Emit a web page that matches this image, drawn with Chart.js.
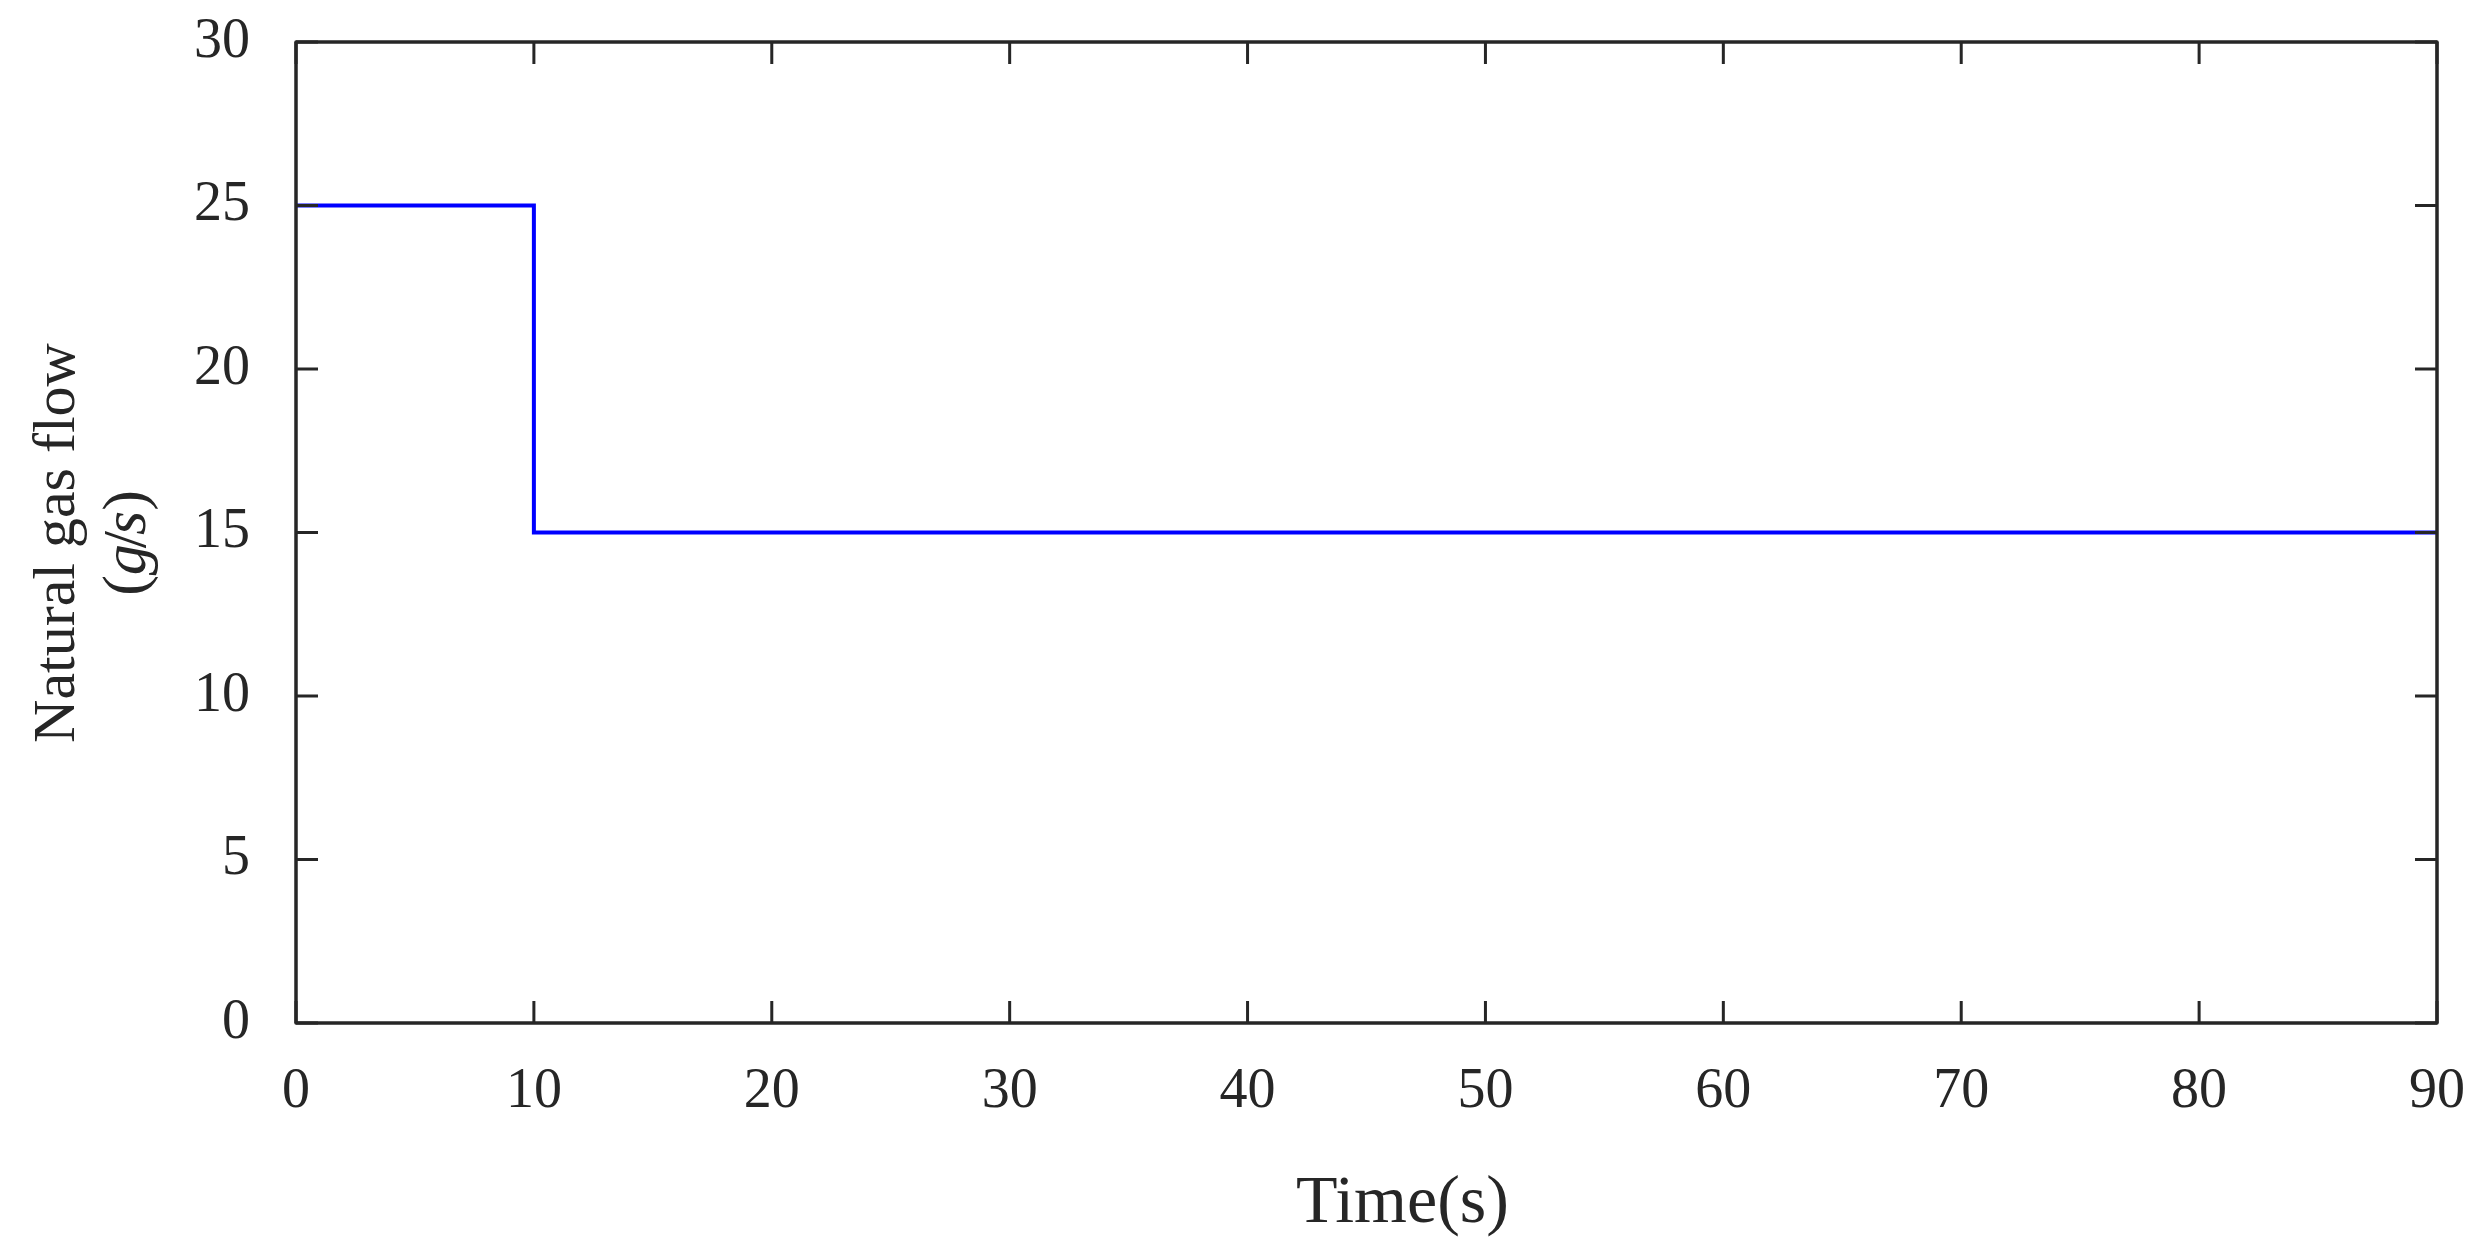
<!DOCTYPE html>
<html>
<head>
<meta charset="utf-8">
<script src="https://cdn.jsdelivr.net/npm/chart.js@4/dist/chart.umd.min.js"></script>
<style>
html,body{margin:0;padding:0;background:#fff;}
#wrap{width:2481px;height:1255px;position:relative;}
</style>
</head>
<body>
<div id="wrap"><canvas id="c" width="2481" height="1255"></canvas></div>
<script>
// ---- data ----
const timeValues = [0, 10, 90];
const flowValues = [25, 15, 15];
const xTickValues = [0, 10, 20, 30, 40, 50, 60, 70, 80, 90];
const yTickValues = [0, 5, 10, 15, 20, 25, 30];
const xTitle = 'Time(s)';
const yTitleLine1 = 'Natural gas flow';
const yTitleLine2 = [['(', false], ['g', true], ['/', false], ['s', true], [')', false]];

const FONT = '"Liberation Serif", "Times New Roman", serif';
const INK = '#262626';
const KERN = [0, -4, -4, 0, 0];

const points = timeValues.map((t, i) => ({x: t, y: flowValues[i]}));

const framePlugin = {
  id: 'frame',
  afterDraw(chart) {
    const {ctx, chartArea: a, scales} = chart;
    const xs = scales.x, ys = scales.y;
    ctx.save();
    ctx.strokeStyle = INK;
    ctx.lineWidth = 3.5;
    ctx.lineJoin = 'round';
    ctx.strokeRect(a.left, a.top, a.right - a.left, a.bottom - a.top);
    const tl = 22;
    ctx.lineWidth = 3;
    ctx.beginPath();
    xTickValues.forEach(v => {
      const px = xs.getPixelForValue(v);
      ctx.moveTo(px, a.bottom); ctx.lineTo(px, a.bottom - tl);
      ctx.moveTo(px, a.top); ctx.lineTo(px, a.top + tl);
    });
    yTickValues.forEach(v => {
      const py = ys.getPixelForValue(v);
      ctx.moveTo(a.left, py); ctx.lineTo(a.left + tl, py);
      ctx.moveTo(a.right, py); ctx.lineTo(a.right - tl, py);
    });
    ctx.stroke();

    // x title
    ctx.fillStyle = INK;
    ctx.font = '68px ' + FONT;
    ctx.textAlign = 'center';
    ctx.textBaseline = 'alphabetic';
    ctx.fillText(xTitle, (a.left + a.right) / 2 + 36, 1222);

    // y title (rotated)
    const cy = 543;
    ctx.save();
    ctx.translate(74, cy);
    ctx.rotate(-Math.PI / 2);
    ctx.font = '60px ' + FONT;
    ctx.textAlign = 'center';
    ctx.fillText(yTitleLine1, 0, 0);
    ctx.restore();

    ctx.save();
    ctx.translate(145, cy);
    ctx.rotate(-Math.PI / 2);
    ctx.textAlign = 'left';
    let total = 0;
    yTitleLine2.forEach(([s, it], i) => {
      ctx.font = (it ? 'italic ' : '') + '62px ' + FONT;
      total += ctx.measureText(s).width + KERN[i];
    });
    let x0 = -total / 2;
    yTitleLine2.forEach(([s, it], i) => {
      ctx.font = (it ? 'italic ' : '') + '62px ' + FONT;
      ctx.fillText(s, x0, 0);
      x0 += ctx.measureText(s).width + KERN[i];
    });
    ctx.restore();
    ctx.restore();
  }
};

new Chart(document.getElementById('c'), {
  type: 'line',
  data: {
    datasets: [{
      data: points,
      borderColor: '#0000ff',
      borderWidth: 4,
      pointRadius: 0,
      stepped: 'before',
      fill: false,
      tension: 0
    }]
  },
  options: {
    responsive: false,
    animation: false,
    events: [],
    layout: {padding: {top: 42, right: 44, left: 0, bottom: 0}},
    plugins: {legend: {display: false}, tooltip: {enabled: false}, title: {display: false}},
    scales: {
      x: {
        type: 'linear',
        min: 0, max: 90,
        afterFit(s) { s.height = 232; s.paddingLeft = 0; s.paddingRight = 0; },
        afterBuildTicks(s) { s.ticks = xTickValues.map(v => ({value: v})); },
        grid: {display: false, drawTicks: false, tickLength: 0},
        border: {display: false},
        ticks: {color: INK, font: {family: FONT, size: 56}, padding: 36, maxRotation: 0, autoSkip: false}
      },
      y: {
        type: 'linear',
        min: 0, max: 30,
        afterFit(s) { s.width = 296; s.paddingTop = 0; s.paddingBottom = 0; },
        afterBuildTicks(s) { s.ticks = yTickValues.map(v => ({value: v})); },
        grid: {display: false, drawTicks: false, tickLength: 0},
        border: {display: false},
        ticks: {color: INK, font: {family: FONT, size: 56}, padding: 46, autoSkip: false}
      }
    }
  },
  plugins: [framePlugin]
});
</script>
</body>
</html>
